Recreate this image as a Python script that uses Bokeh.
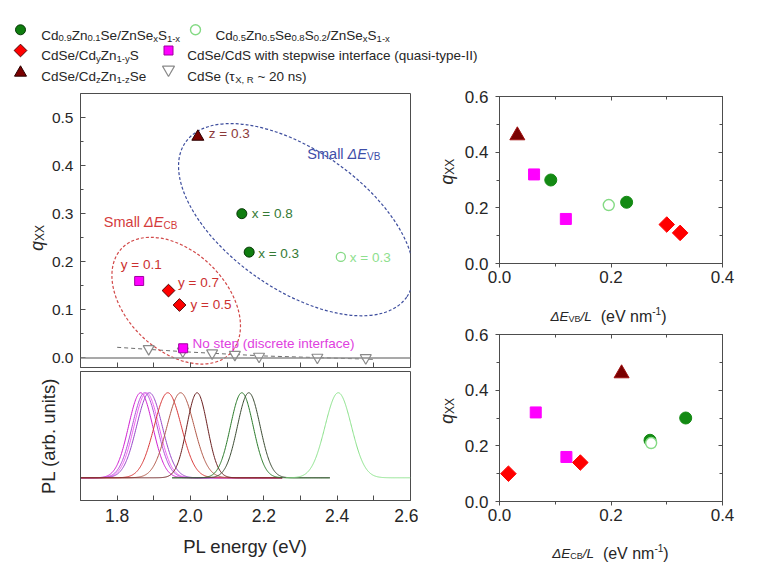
import numpy as np
from bokeh.plotting import figure
from bokeh.models import Range1d, Label, Span, LinearAxis, FixedTicker, PrintfTickFormatter
from bokeh.layouts import column, row
from bokeh.embed import file_html
from bokeh.resources import INLINE

FONT = "Liberation Sans"
AXC = "#4d4d4d"
TXC = "#262626"

# ---------------- data ----------------
# left panel: PL energy (eV) vs q_XX
cdznse_E = [2.14, 2.16]          # Cd0.9Zn0.1Se/ZnSexS1-x
cdznse_q = [0.30, 0.22]
cdznse_lab = ["x = 0.8", "x = 0.3"]
alloy_E = [2.41]                 # Cd0.5Zn0.5Se0.8S0.2/ZnSexS1-x
alloy_q = [0.21]
alloy_lab = ["x = 0.3"]
cdzns_E = [1.94, 1.97]           # CdSe/CdyZn1-yS
cdzns_q = [0.14, 0.11]
cdzns_lab = ["y = 0.7", "y = 0.5"]
cdznse2_E = [2.02]               # CdSe/CdzZn1-zSe
cdznse2_q = [0.46]
cdznse2_lab = ["z = 0.3"]
step_E = [1.86, 1.98]            # CdSe/CdS stepwise
step_q = [0.16, 0.02]
step_lab = ["y = 0.1", "No step (discrete interface)"]
cdse_E = [1.886, 1.979, 2.059, 2.121, 2.187, 2.346, 2.478]   # CdSe
cdse_q = [0.019, 0.014, 0.010, 0.007, 0.003, 0.001, 0.000]
trend_E = [1.80, 2.00, 2.20, 2.50]
trend_q = [0.022, 0.012, 0.004, -0.003]

# PL spectra (peak energy, width, drawn range, colour)
pl_peak = [1.864, 1.875, 1.880, 1.888, 1.938, 1.973, 2.018, 2.140, 2.159, 2.403]
pl_sigma = [0.033, 0.034, 0.034, 0.035, 0.037, 0.037, 0.028, 0.031, 0.031, 0.036]
pl_from = [1.70, 1.70, 1.70, 1.70, 1.70, 1.70, 1.70, 1.95, 1.95, 2.26]
pl_to = [2.25, 2.25, 2.25, 2.25, 2.25, 2.25, 2.25, 2.38, 2.38, 2.60]
pl_color = ["#d020d0", "#b050d8", "#f060f0", "#9848c8", "#d83838", "#b05848",
            "#6a2020", "#2a7a2a", "#3a4a32", "#88e088"]

# right panels: dE_VB/L and dE_CB/L vs q_XX
vb_tri_x, vb_tri_q = [0.032], [0.46]
vb_sq_x, vb_sq_q = [0.062, 0.119], [0.32, 0.16]
vb_gr_x, vb_gr_q = [0.092, 0.228], [0.30, 0.22]
vb_op_x, vb_op_q = [0.196], [0.21]
vb_di_x, vb_di_q = [0.300, 0.324], [0.14, 0.11]

cb_tri_x, cb_tri_q = [0.219], [0.46]
cb_sq_x, cb_sq_q = [0.065, 0.120], [0.32, 0.16]
cb_gr_x, cb_gr_q = [0.270, 0.334], [0.22, 0.30]
cb_op_x, cb_op_q = [0.272], [0.21]
cb_di_x, cb_di_q = [0.016, 0.145], [0.10, 0.14]

# ---------------- helpers ----------------
AW = {' ': 278, '(': 333, ')': 333, '-': 333, '.': 278, '/': 278, ',': 278, '=': 584, '~': 584,
      'A': 667, 'B': 667, 'C': 722, 'D': 722, 'E': 667, 'I': 278, 'L': 556, 'N': 722, 'P': 667,
      'R': 722, 'S': 667, 'V': 667, 'X': 667, 'Z': 611, 'a': 556, 'b': 556, 'c': 500, 'd': 556,
      'e': 556, 'f': 278, 'i': 222, 'l': 222, 'm': 833, 'n': 556, 'o': 556, 'p': 556, 'q': 556,
      'r': 333, 's': 500, 't': 278, 'u': 556, 'v': 500, 'w': 722, 'x': 500, 'y': 500, 'z': 500,
      '\u0394': 668, '\u03c4': 440}


def tw(s, size):
    return sum(AW.get(c, 556) for c in s) * size / 1000.0


def rich(fig, x, y, segs, color, vertical=False):
    """segs: list of (text, kind, size); kind in n, i, sub, sup"""
    adv = 0.0
    for txt, kind, s in segs:
        lead = len(txt) - len(txt.lstrip(" "))
        adv += lead * 0.278 * s
        txt = txt.lstrip(" ")
        shift = {"sub": -0.30 * s, "sup": 0.55 * s}.get(kind, 0.0)
        style = "italic" if kind == "i" else "normal"
        if vertical:
            xo, yo, ang = -shift, adv, np.pi / 2
        else:
            xo, yo, ang = adv, shift, 0.0
        fig.add_layout(Label(x=x, y=y, x_offset=xo, y_offset=yo, angle=ang, text=txt,
                             text_font=FONT, text_font_size=f"{s}px", text_font_style=style,
                             text_color=color, text_baseline="alphabetic", text_align="left"))
        adv += tw(txt, s)


def point_labels(fig, xs, ys, texts, dx, dy, color, size=13.5):
    for xv, yv, t, ddx, ddy in zip(xs, ys, texts, dx, dy):
        fig.add_layout(Label(x=xv, y=yv, x_offset=ddx, y_offset=-ddy, text=t, text_font=FONT,
                             text_font_size=f"{size}px", text_color=color,
                             text_baseline="middle", text_align="left"))


def make_axis(ticks, minor, labels=True, size="15px", tin=0, tout=0, min_in=0, min_out=0,
              standoff=5):
    ax = LinearAxis(ticker=FixedTicker(ticks=ticks, minor_ticks=minor),
                    formatter=PrintfTickFormatter(format="%.1f"))
    ax.axis_line_color = AXC
    ax.major_tick_line_color = AXC
    ax.minor_tick_line_color = AXC
    ax.major_tick_in = tin
    ax.major_tick_out = tout
    ax.minor_tick_in = min_in
    ax.minor_tick_out = min_out
    ax.major_label_text_font = FONT
    ax.major_label_text_color = TXC
    ax.axis_label_text_font = FONT
    ax.axis_label_text_font_style = "normal"
    ax.axis_label_text_color = TXC
    if labels:
        ax.major_label_text_font_size = size
        ax.major_label_standoff = standoff
    else:
        ax.major_label_overrides = {t: "" for t in ticks}
        ax.major_label_text_font_size = "0px"
        ax.major_label_standoff = 0
    return ax


def base_fig(w, h, xr, yr, **kw):
    f = figure(width=w, height=h, x_range=Range1d(*xr), y_range=Range1d(*yr),
               toolbar_location=None, output_backend="svg", x_axis_location=None,
               y_axis_location=None, **kw)
    for g in f.grid:
        g.visible = False
    f.outline_line_color = AXC
    f.border_fill_color = "white"
    f.background_fill_color = "white"
    return f


def text_fig(x0, y0, w, h):
    """A blank strip whose data coordinates equal page pixels (y downward)."""
    f = figure(width=w, height=h, x_range=Range1d(x0, x0 + w), y_range=Range1d(y0 + h, y0),
               toolbar_location=None, output_backend="svg", x_axis_location=None,
               y_axis_location=None, min_border=0)
    for g in f.grid:
        g.visible = False
    f.outline_line_color = None
    return f


# marker styles
GREEN_DK = "#0f7d0f"
LIGHT_G = "#84da84"
RED = "#ff0000"
MAG = "#ff00ff"
MAROON = "#7a0000"

# ---------------- legend ----------------
leg = text_fig(0, 0, 759, 86)
leg.scatter([20], [29.3], marker="circle", size=10, fill_color=GREEN_DK, line_color="#063806")
leg.scatter([195], [29.3], marker="circle", size=10, fill_color="white", line_color=LIGHT_G,
            line_width=1.4)
leg.scatter([20], [50], marker="square", angle=np.pi / 4, size=9, fill_color=RED,
            line_color="#500000")
leg.scatter([168], [50], marker="square", size=9, fill_color=MAG, line_color="#a000a0")
leg.scatter([20], [72.2], marker="triangle", size=12, fill_color=MAROON, line_color="#2a0000")
leg.scatter([168], [69.1], marker="inverted_triangle", size=12, fill_color="white",
            line_color="#8a8a8a", line_width=1.2)

L, S = 13.5, 9.5
rich(leg, 40.7, 34.7, [("Cd", "n", L), ("0.9", "sub", S), ("Zn", "n", L), ("0.1", "sub", S),
                       ("Se/ZnSe", "n", L), ("x", "sub", S), ("S", "n", L), ("1-x", "sub", S)], TXC)
rich(leg, 215, 34.7, [("Cd", "n", L), ("0.5", "sub", S), ("Zn", "n", L), ("0.5", "sub", S),
                      ("Se", "n", L), ("0.8", "sub", S), ("S", "n", L), ("0.2", "sub", S),
                      ("/ZnSe", "n", L), ("x", "sub", S), ("S", "n", L), ("1-x", "sub", S)], TXC)
rich(leg, 40.7, 55, [("CdSe/Cd", "n", L), ("y", "sub", S), ("Zn", "n", L), ("1-y", "sub", S),
                     ("S", "n", L)], TXC)
rich(leg, 186.7, 55, [("CdSe/CdS with stepwise interface (quasi-type-II)", "n", L)], TXC)
rich(leg, 40.7, 76, [("CdSe/Cd", "n", L), ("z", "sub", S), ("Zn", "n", L), ("1-z", "sub", S),
                     ("Se", "n", L)], TXC)
rich(leg, 186.7, 76, [("CdSe (", "n", L), ("\u03c4", "n", L), ("X, R", "sub", S),
                      (" ~ 20 ns)", "n", L)], TXC)

# ---------------- main panel ----------------
qm = text_fig(0, 86, 48, 283)
rich(qm, 36, 248.3, [("q", "i", 17.5), ("XX", "sub", 12)], TXC, vertical=True)

main = base_fig(370, 283, (1.7, 2.6), (-0.02, 0.55), min_border_left=32, min_border_right=8,
                min_border_top=7, min_border_bottom=2)
main.add_layout(make_axis([0.0, 0.1, 0.2, 0.3, 0.4, 0.5], [0.05, 0.15, 0.25, 0.35, 0.45],
                          size="15.5px", tin=5, min_in=3, standoff=7), "left")
main.add_layout(make_axis([1.8, 1.9, 2.0, 2.1, 2.2, 2.3, 2.4, 2.5], [], labels=False, tin=5),
                "below")
main.add_layout(Span(location=0, dimension="width", line_color="#8c8c8c", line_width=1.5))
main.line(trend_E, trend_q, line_color="#6e6e6e", line_dash="4 3", line_width=1)
main.ellipse(x=[2.288], y=[0.2875], width=[270], height=[139], width_units="screen",
             height_units="screen", angle=[-35 * np.pi / 180], fill_color=None,
             line_color="#3e4e9e", line_dash="3 2", line_width=1.2)
main.ellipse(x=[1.961], y=[0.119], width=[151], height=[99], width_units="screen",
             height_units="screen", angle=[-44 * np.pi / 180], fill_color=None,
             line_color="#d24a4a", line_dash="3 2", line_width=1.2)
main.scatter(cdse_E, cdse_q, marker="inverted_triangle", size=11, fill_color="white",
             line_color="#8a8a8a", line_width=1.2)
main.scatter(step_E, step_q, marker="square", size=9, fill_color=MAG, line_color="#a000a0")
main.scatter(cdzns_E, cdzns_q, marker="square", angle=np.pi / 4, size=9, fill_color=RED,
             line_color="#500000")
main.scatter(cdznse2_E, cdznse2_q, marker="triangle", size=12, fill_color=MAROON,
             line_color="#2a0000")
main.scatter(cdznse_E, cdznse_q, marker="circle", size=10, fill_color=GREEN_DK,
             line_color="#063806")
main.scatter(alloy_E, alloy_q, marker="circle", size=9, fill_color="white",
             line_color=LIGHT_G, line_width=1.3)

point_labels(main, cdznse2_E, cdznse2_q, cdznse2_lab, [11], [-3], "#8b3a3a")
point_labels(main, cdznse_E, cdznse_q, cdznse_lab, [10, 9], [0, 1], "#357a35")
point_labels(main, alloy_E, alloy_q, alloy_lab, [9], [0.5], "#8ee08e")
point_labels(main, cdzns_E, cdzns_q, cdzns_lab, [9.6, 11], [-8, -0.7], "#cc3030")
point_labels(main, step_E[:1], step_q[:1], step_lab[:1], [-18.3], [-16.7], "#cc3030")
point_labels(main, step_E[1:], step_q[1:], step_lab[1:], [9.3], [-5], "#e040e0")

rich(main, 2.3186, 0.4246, [("Small ", "n", 14.5), ("\u0394E", "i", 14.5), ("VB", "sub", 10)],
     "#3e4ea8")
rich(main, 1.7636, 0.2823, [("Small ", "n", 14.5), ("\u0394E", "i", 14.5), ("CB", "sub", 10)],
     "#d43c3c")

# ---------------- PL panel ----------------
pl = base_fig(418, 195, (1.7, 2.6), (-0.267, 1.25), min_border_left=80, min_border_right=8,
              min_border_top=2, min_border_bottom=64)
plx = make_axis([1.8, 2.0, 2.2, 2.4, 2.6], [1.9, 2.1, 2.3, 2.5], size="17.5px", tin=5,
                min_in=5, standoff=8)
plx.axis_label = "PL energy (eV)"
plx.axis_label_text_font_size = "18.5px"
plx.axis_label_standoff = 11
pl.add_layout(plx, "below")
ply = make_axis([], [], labels=False)
ply.axis_label = "PL (arb. units)"
ply.axis_label_text_font_size = "18.5px"
ply.axis_label_standoff = 22
pl.add_layout(ply, "left")
for pk, sg, a, b, c in zip(pl_peak, pl_sigma, pl_from, pl_to, pl_color):
    xe = np.linspace(a, b, 400)
    pl.line(xe, np.exp(-0.5 * ((xe - pk) / sg) ** 2), line_color=c, line_width=1)

# ---------------- right panels ----------------
def right_fig(h, top, bottom):
    f = base_fig(299, h, (0, 0.4), (0, 0.6), min_border_left=39, min_border_right=37,
                 min_border_top=top, min_border_bottom=bottom)
    f.add_layout(make_axis([0.0, 0.2, 0.4], [0.1, 0.3], size="17px", tout=4, min_out=3,
                           standoff=3), "below")
    f.add_layout(make_axis([0.0, 0.2, 0.4, 0.6], [0.1, 0.3, 0.5], size="17px", tout=4,
                           min_out=3, standoff=7), "left")
    f.add_layout(make_axis([0.0, 0.2, 0.4], [0.1, 0.3], labels=False, tin=4, min_in=3), "above")
    f.add_layout(make_axis([0.0, 0.2, 0.4, 0.6], [0.1, 0.3, 0.5], labels=False, tin=4, min_in=3),
                 "right")
    return f


GREEN_R = "#138a13"


def right_points(f, tri, sq, gr, op, di):
    f.scatter(*tri, marker="triangle", size=15, fill_color=MAROON, line_color="#a01010")
    f.scatter(*sq, marker="square", size=11, fill_color=MAG, line_color=MAG)
    f.scatter(*di, marker="square", angle=np.pi / 4, size=11, fill_color=RED, line_color=RED)
    f.scatter(*gr, marker="circle", size=12, fill_color=GREEN_R, line_color=GREEN_R)
    f.scatter(*op, marker="circle", size=11, fill_color="white", line_color=LIGHT_G,
              line_width=1.4)


qt = text_fig(418, 86, 42, 207)
rich(qt, 446, 195, [("q", "i", 17.5), ("XX", "sub", 12)], TXC, vertical=True)
rt = right_fig(207, 10, 30)
right_points(rt, (vb_tri_x, vb_tri_q), (vb_sq_x, vb_sq_q), (vb_gr_x, vb_gr_q),
             (vb_op_x, vb_op_q), (vb_di_x, vb_di_q))
xt = text_fig(418, 293, 341, 33)
rich(xt, 550, 316, [("\u0394E", "i", 13.5), ("VB", "sub", 9), ("/L", "i", 13.5),
                    ("  (eV nm", "n", 16), ("-1", "sup", 10), (")", "n", 16)], TXC)

qb = text_fig(418, 326, 42, 204)
rich(qb, 446, 435, [("q", "i", 17.5), ("XX", "sub", 12)], TXC, vertical=True)
rb = right_fig(204, 8, 29)
right_points(rb, (cb_tri_x, cb_tri_q), (cb_sq_x, cb_sq_q), (cb_gr_x, cb_gr_q),
             (cb_op_x, cb_op_q), (cb_di_x, cb_di_q))
xb = text_fig(418, 530, 341, 32)
rich(xb, 551.7, 553, [("\u0394E", "i", 13.5), ("CB", "sub", 9), ("/L", "i", 13.5),
                      ("  (eV nm", "n", 16), ("-1", "sup", 10), (")", "n", 16)], TXC)

left_col = column(row(qm, main), pl)
right_col = column(row(qt, rt), xt, row(qb, rb), xb)
layout = column(leg, row(left_col, right_col))
open("out.html", "w").write(file_html(layout, INLINE))
